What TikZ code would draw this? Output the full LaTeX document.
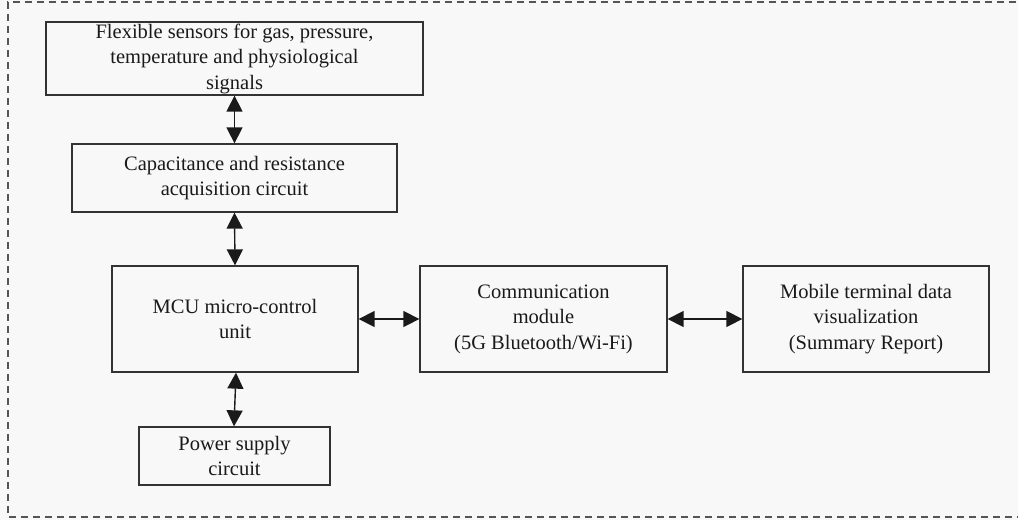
\documentclass[tikz,border=0pt]{standalone}
\usepackage{fontspec}
\setmainfont{Liberation Serif}
\usetikzlibrary{arrows.meta}
\definecolor{bgc}{HTML}{F8F8F8}
\definecolor{linec}{HTML}{333333}
\definecolor{dashc}{HTML}{555555}
\definecolor{textc}{HTML}{1A1A1A}
\tikzset{
  blk/.style={draw=linec, line width=1.3pt, fill=bgc, align=center, inner sep=0pt,
    text=textc, font=\fontsize{20.5}{25.5}\selectfont},
  biarrow/.style={line width=1.4pt, draw=textc, {Triangle[length=16pt,width=16pt]}-{Triangle[length=16pt,width=16pt]}},
}
\begin{document}
\begin{tikzpicture}[x=1pt,y=-1pt]
\useasboundingbox (0,0) rectangle (1018,520);
\fill[bgc] (0,0) rectangle (1018,520);
\begin{scope}
\clip (0,0) rectangle (1018,520);
\draw[dashc, line width=1.2pt, dash pattern=on 7pt off 5pt] (1100,2) -- (8,2) -- (8,517) -- (1100,517);
\end{scope}
\node[blk, minimum width=377pt, minimum height=73pt] (sens) at (234.5,58.5)
  {Flexible sensors for gas, pressure,\\temperature and physiological\\signals};
\node[blk, minimum width=325pt, minimum height=68pt] (acq) at (234.5,178)
  {Capacitance and resistance\\acquisition circuit};
\node[blk, minimum width=246pt, minimum height=106pt] (mcu) at (235,319)
  {MCU micro-control\\unit};
\node[blk, minimum width=191pt, minimum height=58pt] (pow) at (234.5,456)
  {Power supply\\circuit};
\node[blk, minimum width=247pt, minimum height=106pt] (comm) at (543.5,319)
  {Communication\\module\\(5G Bluetooth/Wi-Fi)};
\node[blk, minimum width=246pt, minimum height=106pt] (mob) at (866,319)
  {Mobile terminal data\\visualization\\(Summary Report)};
\draw[biarrow] (sens.south) -- (acq.north);
\draw[biarrow] (acq.south) -- (mcu.north);
\draw[biarrow] ([xshift=1pt]mcu.south) -- ([xshift=-0.5pt]pow.north);
\draw[biarrow] (mcu.east) -- (comm.west);
\draw[biarrow] (comm.east) -- (mob.west);
\end{tikzpicture}
\end{document}
